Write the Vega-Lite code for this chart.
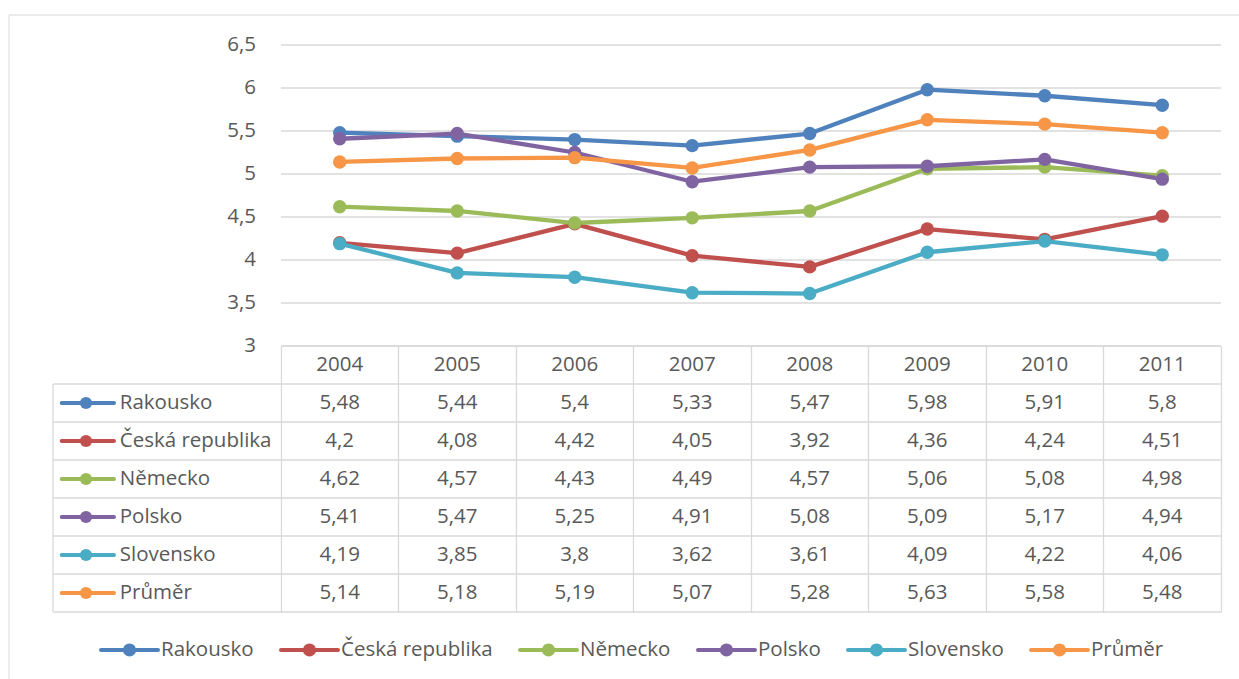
{
  "$schema": "https://vega.github.io/schema/vega-lite/v6.json",
  "background": "white",
  "padding": {"left": 8, "top": 14, "right": 0, "bottom": 0},
  "spacing": 0,
  "bounds": "flush",
  "config": {
    "view": {"stroke": null},
    "font": "Open Sans",
    "text": {"font": "Open Sans", "fontSize": 20.5, "color": "#595959"},
    "locale": {"number": {"decimal": ",", "thousands": " ", "grouping": [3], "currency": ["", " Kč"]}}
  },
  "datasets": {
    "ukazatel": [
      {"series": "Rakousko", "year": 2004, "value": 5.48},
      {"series": "Rakousko", "year": 2005, "value": 5.44},
      {"series": "Rakousko", "year": 2006, "value": 5.4},
      {"series": "Rakousko", "year": 2007, "value": 5.33},
      {"series": "Rakousko", "year": 2008, "value": 5.47},
      {"series": "Rakousko", "year": 2009, "value": 5.98},
      {"series": "Rakousko", "year": 2010, "value": 5.91},
      {"series": "Rakousko", "year": 2011, "value": 5.8},
      {"series": "Česká republika", "year": 2004, "value": 4.2},
      {"series": "Česká republika", "year": 2005, "value": 4.08},
      {"series": "Česká republika", "year": 2006, "value": 4.42},
      {"series": "Česká republika", "year": 2007, "value": 4.05},
      {"series": "Česká republika", "year": 2008, "value": 3.92},
      {"series": "Česká republika", "year": 2009, "value": 4.36},
      {"series": "Česká republika", "year": 2010, "value": 4.24},
      {"series": "Česká republika", "year": 2011, "value": 4.51},
      {"series": "Německo", "year": 2004, "value": 4.62},
      {"series": "Německo", "year": 2005, "value": 4.57},
      {"series": "Německo", "year": 2006, "value": 4.43},
      {"series": "Německo", "year": 2007, "value": 4.49},
      {"series": "Německo", "year": 2008, "value": 4.57},
      {"series": "Německo", "year": 2009, "value": 5.06},
      {"series": "Německo", "year": 2010, "value": 5.08},
      {"series": "Německo", "year": 2011, "value": 4.98},
      {"series": "Polsko", "year": 2004, "value": 5.41},
      {"series": "Polsko", "year": 2005, "value": 5.47},
      {"series": "Polsko", "year": 2006, "value": 5.25},
      {"series": "Polsko", "year": 2007, "value": 4.91},
      {"series": "Polsko", "year": 2008, "value": 5.08},
      {"series": "Polsko", "year": 2009, "value": 5.09},
      {"series": "Polsko", "year": 2010, "value": 5.17},
      {"series": "Polsko", "year": 2011, "value": 4.94},
      {"series": "Slovensko", "year": 2004, "value": 4.19},
      {"series": "Slovensko", "year": 2005, "value": 3.85},
      {"series": "Slovensko", "year": 2006, "value": 3.8},
      {"series": "Slovensko", "year": 2007, "value": 3.62},
      {"series": "Slovensko", "year": 2008, "value": 3.61},
      {"series": "Slovensko", "year": 2009, "value": 4.09},
      {"series": "Slovensko", "year": 2010, "value": 4.22},
      {"series": "Slovensko", "year": 2011, "value": 4.06},
      {"series": "Průměr", "year": 2004, "value": 5.14},
      {"series": "Průměr", "year": 2005, "value": 5.18},
      {"series": "Průměr", "year": 2006, "value": 5.19},
      {"series": "Průměr", "year": 2007, "value": 5.07},
      {"series": "Průměr", "year": 2008, "value": 5.28},
      {"series": "Průměr", "year": 2009, "value": 5.63},
      {"series": "Průměr", "year": 2010, "value": 5.58},
      {"series": "Průměr", "year": 2011, "value": 5.48}
    ],
    "osa": [
      {"tick": 3}, {"tick": 3.5}, {"tick": 4}, {"tick": 4.5},
      {"tick": 5}, {"tick": 5.5}, {"tick": 6}, {"tick": 6.5}
    ]
  },
  "vconcat": [
    {
      "width": 1168,
      "height": 301,
      "layer": [
        {
          "data": {"name": "osa"},
          "mark": {"type": "rule", "color": "#d9d9d9", "strokeWidth": 1.3},
          "encoding": {
            "x": {"datum": 2003.5, "type": "quantitative", "scale": {"domain": [2001.56, 2011.5], "nice": false, "zero": false}, "axis": null},
            "x2": {"datum": 2011.5},
            "y": {"field": "tick", "type": "quantitative", "scale": {"domain": [3, 6.5], "nice": false, "zero": false}, "axis": null}
          }
        },
        {
          "data": {"name": "osa"},
          "mark": {"type": "text", "align": "right", "baseline": "middle", "dx": -25},
          "encoding": {
            "x": {"datum": 2003.5, "type": "quantitative"},
            "y": {"field": "tick", "type": "quantitative"},
            "text": {"field": "tick", "type": "quantitative", "format": ".1~f"}
          }
        },
        {
          "data": {"values": [{}]},
          "mark": {"type": "rule", "color": "#d9d9d9", "strokeWidth": 1},
          "encoding": {
            "x": {"datum": 2001.186, "type": "quantitative"},
            "x2": {"datum": 2011.66},
            "y": {"datum": 6.849, "type": "quantitative"}
          }
        },
        {
          "data": {"values": [{}]},
          "mark": {"type": "rule", "color": "#d9d9d9", "strokeWidth": 1},
          "encoding": {
            "x": {"datum": 2001.186, "type": "quantitative"},
            "y": {"datum": 6.849, "type": "quantitative"},
            "y2": {"datum": -0.88}
          }
        },
        {
          "data": {"name": "ukazatel"},
          "mark": {"type": "line", "strokeWidth": 4.3, "strokeCap": "round", "strokeJoin": "round"},
          "encoding": {
            "x": {"field": "year", "type": "quantitative"},
            "y": {"field": "value", "type": "quantitative"},
            "color": {
              "field": "series",
              "type": "nominal",
              "sort": null,
              "scale": {
                "domain": ["Rakousko", "Česká republika", "Německo", "Polsko", "Slovensko", "Průměr"],
                "range": ["#4f81bd", "#c0504d", "#9bbb59", "#8064a2", "#4bacc6", "#f79646"]
              },
              "legend": {
                "orient": "none",
                "legendX": 46,
                "legendY": 574,
                "direction": "horizontal",
                "columns": 6,
                "title": null,
                "padding": 0,
                "symbolType": "M-1,0L1,0M-0.16,0A0.16,0.16,0,1,1,0.16,0A0.16,0.16,0,1,1,-0.16,0Z",
                "symbolSize": 3249,
                "symbolStrokeWidth": 4,
                "labelFont": "Open Sans",
                "labelFontSize": 20.5,
                "labelColor": "#595959",
                "labelOffset": 1,
                "columnPadding": 19,
                "encode": {
                  "symbols": {
                    "update": {
                      "fill": {"scale": "color", "field": "value"},
                      "stroke": {"scale": "color", "field": "value"},
                      "strokeCap": {"value": "round"},
                      "strokeWidth": {"value": 4},
                      "opacity": {"value": 1}
                    }
                  }
                }
              }
            },
            "order": {"field": "year"}
          }
        },
        {
          "data": {"name": "ukazatel"},
          "mark": {"type": "point", "filled": true, "size": 180, "opacity": 1},
          "encoding": {
            "x": {"field": "year", "type": "quantitative"},
            "y": {"field": "value", "type": "quantitative"},
            "color": {"field": "series", "type": "nominal", "sort": null}
          }
        }
      ]
    },
    {
      "width": 1168,
      "height": 266,
      "data": {"name": "ukazatel"},
      "layer": [
        {
          "transform": [{"filter": {"field": "year", "equal": 2004}}],
          "mark": {"type": "rule", "color": "#d9d9d9", "strokeWidth": 1.3},
          "encoding": {
            "x": {
              "datum": 2001.56,
              "type": "quantitative",
              "scale": {"domain": [2001.56, 2011.5], "nice": false, "zero": false},
              "axis": {
                "values": [2003.5, 2004.5, 2005.5, 2006.5, 2007.5, 2008.5, 2009.5, 2010.5, 2011.5],
                "grid": true,
                "gridColor": "#d9d9d9",
                "gridWidth": 1.3,
                "labels": false,
                "ticks": false,
                "domain": false,
                "title": null
              }
            },
            "x2": {"datum": 2011.5},
            "y": {
              "field": "series",
              "type": "nominal",
              "bandPosition": 0,
              "scale": {
                "domain": ["rok", "Rakousko", "Česká republika", "Německo", "Polsko", "Slovensko", "Průměr"],
                "paddingInner": 0,
                "paddingOuter": 0
              },
              "axis": null
            }
          }
        },
        {
          "data": {"values": [{}]},
          "mark": {"type": "rule", "color": "#d9d9d9", "strokeWidth": 1.3},
          "encoding": {
            "x": {"datum": 2001.56, "type": "quantitative"},
            "x2": {"datum": 2011.5},
            "y": {"datum": "Průměr", "type": "nominal", "bandPosition": 1}
          }
        },
        {
          "data": {"values": [{}]},
          "mark": {"type": "rule", "color": "#d9d9d9", "strokeWidth": 1.3},
          "encoding": {
            "x": {"datum": 2003.5, "type": "quantitative"},
            "x2": {"datum": 2011.5},
            "y": {"datum": "rok", "type": "nominal", "bandPosition": 0}
          }
        },
        {
          "data": {"values": [{}]},
          "mark": {"type": "rule", "color": "#d9d9d9", "strokeWidth": 1.3},
          "encoding": {
            "x": {"datum": 2001.56, "type": "quantitative"},
            "y": {"datum": "Rakousko", "type": "nominal", "bandPosition": 0},
            "y2": {"value": "height"}
          }
        },
        {
          "transform": [{"filter": {"field": "series", "equal": "Rakousko"}}],
          "mark": {"type": "text", "baseline": "middle"},
          "encoding": {
            "x": {"field": "year", "type": "quantitative"},
            "y": {"datum": "rok", "type": "nominal"},
            "text": {"field": "year", "type": "nominal"}
          }
        },
        {
          "mark": {"type": "text", "baseline": "middle"},
          "encoding": {
            "x": {"field": "year", "type": "quantitative"},
            "y": {"field": "series", "type": "nominal"},
            "text": {"field": "value", "type": "quantitative", "format": ".2~f"}
          }
        },
        {
          "transform": [{"filter": {"field": "year", "equal": 2004}}],
          "mark": {"type": "text", "align": "left", "baseline": "middle"},
          "encoding": {
            "x": {"datum": 2002.128, "type": "quantitative"},
            "y": {"field": "series", "type": "nominal"},
            "text": {"field": "series", "type": "nominal"}
          }
        },
        {
          "transform": [{"filter": {"field": "year", "equal": 2004}}],
          "mark": {"type": "rule", "strokeWidth": 4, "strokeCap": "round"},
          "encoding": {
            "x": {"datum": 2001.634, "type": "quantitative"},
            "x2": {"datum": 2002.079},
            "y": {"field": "series", "type": "nominal"},
            "color": {"field": "series", "type": "nominal", "sort": null}
          }
        },
        {
          "transform": [{"filter": {"field": "year", "equal": 2004}}],
          "mark": {"type": "point", "filled": true, "size": 150, "opacity": 1},
          "encoding": {
            "x": {"datum": 2001.841, "type": "quantitative"},
            "y": {"field": "series", "type": "nominal"},
            "color": {"field": "series", "type": "nominal", "sort": null}
          }
        }
      ]
    }
  ]
}
